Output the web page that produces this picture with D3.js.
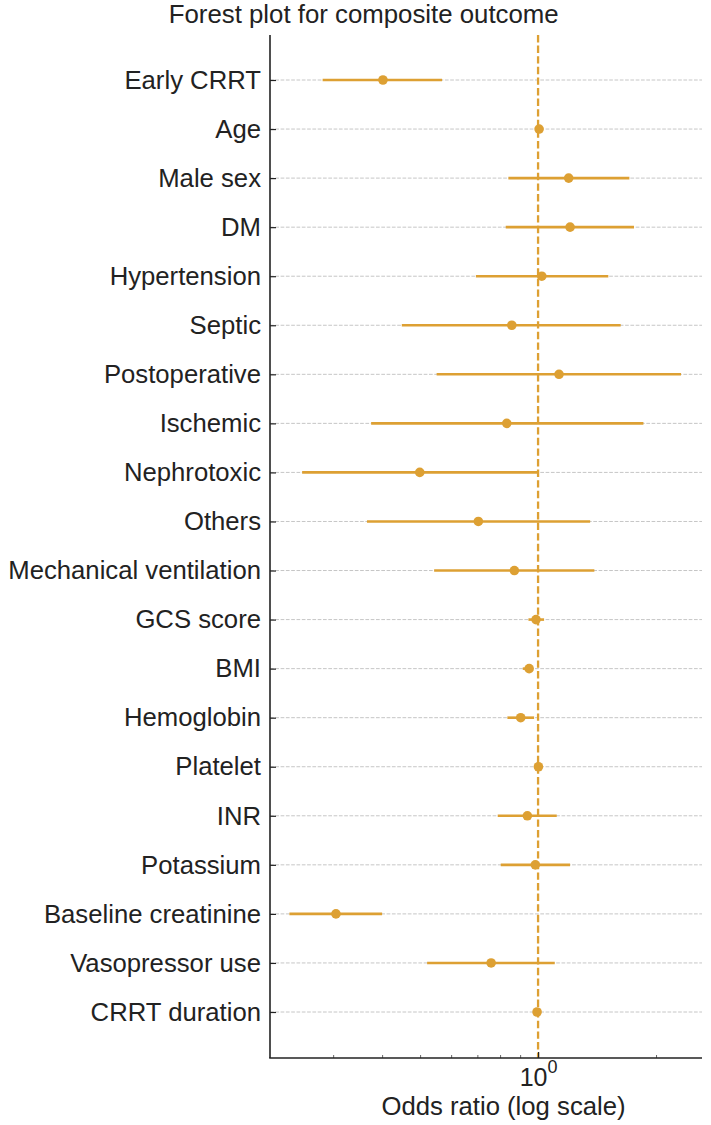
<!DOCTYPE html>
<html><head><meta charset="utf-8">
<script src="https://cdn.jsdelivr.net/npm/d3@7"></script>
<style>
body{margin:0;background:#fff}
svg{display:block}
text{font-family:"Liberation Sans",Arial,Helvetica,sans-serif;fill:#222}
</style>
</head><body>
<svg id="chart" width="711" height="1125"></svg>
<script>
// ---- data ----
const categories = ["Early CRRT","Age","Male sex","DM","Hypertension","Septic","Postoperative","Ischemic","Nephrotoxic","Others","Mechanical ventilation","GCS score","BMI","Hemoglobin","Platelet","INR","Potassium","Baseline creatinine","Vasopressor use","CRRT duration"];
const oddsRatio = [0.402,1.006,1.197,1.207,1.022,0.857,1.131,0.832,0.499,0.704,0.870,0.988,0.949,0.903,1.002,0.939,0.984,0.305,0.759,0.994];
const ciLower   = [0.282,0.996,0.840,0.827,0.694,0.449,0.551,0.375,0.250,0.366,0.543,0.945,0.914,0.835,0.998,0.789,0.803,0.232,0.521,0.990];
const ciUpper   = [0.569,1.016,1.710,1.757,1.511,1.625,2.316,1.857,0.996,1.358,1.392,1.036,0.967,0.977,1.006,1.116,1.207,0.400,1.103,0.998];
const majorTicks = [1];
const minorTicks = [0.3,0.4,0.5,0.6,0.7,0.8,0.9,2];
const xDomain = [0.207, 2.62];
const titleText = "Forest plot for composite outcome";
const xLabelText = "Odds ratio (log scale)";

(function(){
// ---- layout ----
const mLeft = 270, mRight = 702, mTop = 35, mBottom = 1058;
const color = "#DDA033";
const svg = d3.select("#chart");

const x = d3.scaleLog().domain(xDomain).range([mLeft, mRight]);
const y = d3.scalePoint().domain(categories).range([80, 1012]);

const rows = categories.map((c,i)=>({c, or:oddsRatio[i], lo:ciLower[i], hi:ciUpper[i]}));

// gridlines
svg.append("g").selectAll("line").data(categories).join("line")
  .attr("x1", mLeft).attr("x2", mRight)
  .attr("y1", d=>y(d)).attr("y2", d=>y(d))
  .attr("stroke", "#c6c6c6").attr("stroke-width", 1)
  .attr("stroke-dasharray", "3.7,1.6");

// reference line at OR = 1
svg.append("line")
  .attr("x1", x(1)).attr("x2", x(1)).attr("y1", mTop).attr("y2", mBottom)
  .attr("stroke", color).attr("stroke-width", 2.3)
  .attr("stroke-dasharray", "7.4,3.2");

// error bars
svg.append("g").selectAll("line").data(rows).join("line")
  .attr("x1", d=>x(d.lo)).attr("x2", d=>x(d.hi))
  .attr("y1", d=>y(d.c)).attr("y2", d=>y(d.c))
  .attr("stroke", color).attr("stroke-width", 2.6);

// points
svg.append("g").selectAll("circle").data(rows).join("circle")
  .attr("cx", d=>x(d.or)).attr("cy", d=>y(d.c)).attr("r", 4.8)
  .attr("fill", color);

// y axis
const yAxis = d3.axisLeft(y).tickSize(-6).tickPadding(9);
const gy = svg.append("g").attr("transform", `translate(${mLeft},0)`).call(yAxis);
gy.select(".domain").remove();
gy.selectAll(".tick line").attr("stroke", "#222").attr("stroke-width", 1.2);
gy.selectAll(".tick text").attr("font-size", 25.7).attr("fill", "#222")
  .attr("font-family", '"Liberation Sans",Arial,sans-serif');

// x axis: minor ticks
const gxMinor = svg.append("g").attr("transform", `translate(0,${mBottom})`)
  .call(d3.axisBottom(x).tickValues(minorTicks).tickSize(-3).tickFormat(""));
gxMinor.select(".domain").remove();
gxMinor.selectAll(".tick line").attr("stroke", "#555").attr("stroke-width", 0.9);

// x axis: major ticks
const gx = svg.append("g").attr("transform", `translate(0,${mBottom})`)
  .call(d3.axisBottom(x).tickValues(majorTicks).tickSize(-6).tickFormat(""));
gx.select(".domain").remove();
gx.selectAll(".tick line").attr("stroke", "#222").attr("stroke-width", 1.2);
gx.selectAll(".tick").each(function(d){
  const t = d3.select(this).append("text")
    .attr("text-anchor", "middle").attr("y", 28).attr("font-size", 25)
    .attr("fill", "#222");
  t.append("tspan").text("10");
  t.append("tspan").attr("font-size", 18).attr("dy", -13).text(String(Math.round(Math.log10(d))));
});

// spines
svg.append("line").attr("x1", mLeft).attr("x2", mLeft).attr("y1", mTop).attr("y2", mBottom)
  .attr("stroke", "#222").attr("stroke-width", 1.6);
svg.append("line").attr("x1", mLeft - 0.8).attr("x2", mRight).attr("y1", mBottom).attr("y2", mBottom)
  .attr("stroke", "#222").attr("stroke-width", 1.6);

// title and axis label
svg.append("text").attr("x", 363.7).attr("y", 23).attr("text-anchor", "middle")
  .attr("font-size", 25.8).text(titleText);
svg.append("text").attr("x", 503.5).attr("y", 1115).attr("text-anchor", "middle")
  .attr("font-size", 25.7).text(xLabelText);
})();
</script>
</body></html>
